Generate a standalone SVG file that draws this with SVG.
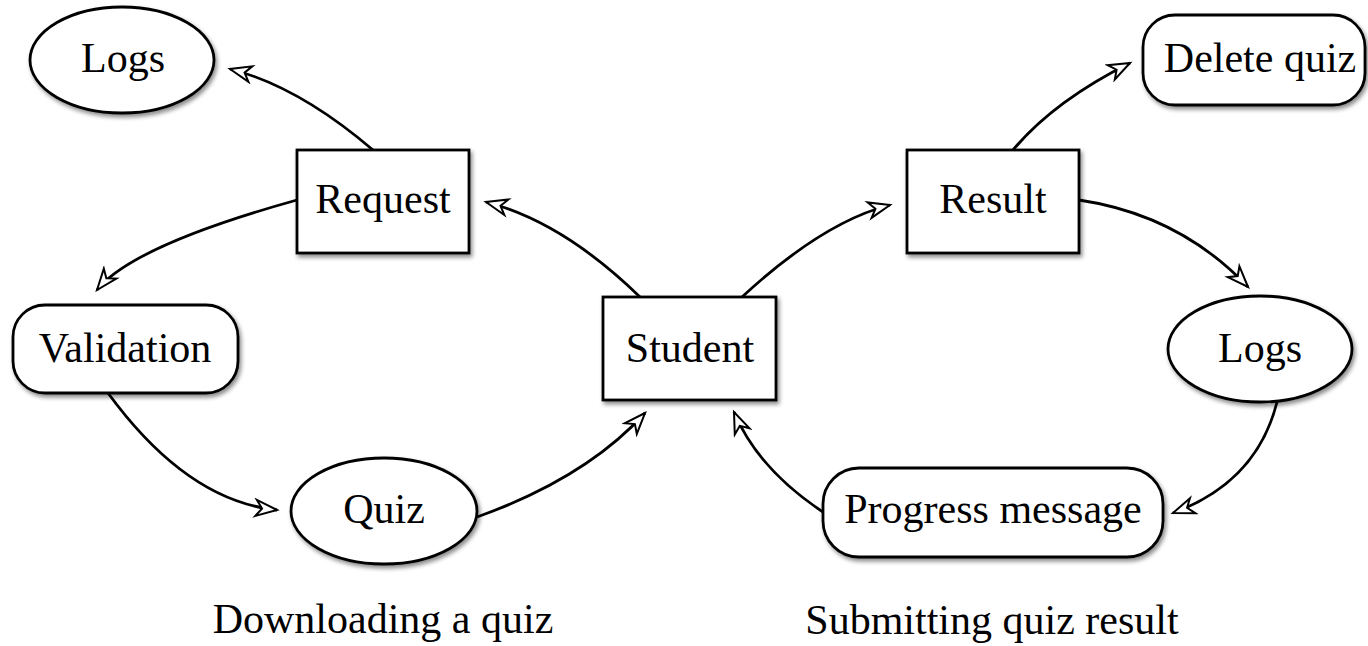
<svg xmlns="http://www.w3.org/2000/svg" width="1368" height="646" viewBox="0 0 1368 646">
<style>
.box{fill:#fff;stroke:#000;stroke-width:2.8;filter:url(#sh)}
.lbl{font-family:"Liberation Serif","Times New Roman",serif;font-size:42px;fill:#000;text-anchor:middle}
.edge{fill:none;stroke:#000;stroke-width:2.8;marker-end:url(#arr)}
</style>
<defs>
<filter id="sh" x="-10%" y="-10%" width="125%" height="130%">
<feDropShadow dx="2" dy="3" stdDeviation="2" flood-color="#000" flood-opacity="0.45"/>
</filter>
<marker id="arr" markerUnits="userSpaceOnUse" viewBox="-24 -10 28 20" refX="0" refY="0" markerWidth="28" markerHeight="20" orient="auto">
<path d="M0,0 L-21,-8 L-15,0 L-21,8 Z" fill="#fff" stroke="#000" stroke-width="2" stroke-linejoin="miter"/>
</marker>
</defs>
<rect width="1368" height="646" fill="#fff"/>
<g id="connectors">
<path class="edge" d="M373,150 Q298,86 230,69"/>
<path class="edge" d="M297,200 Q132,246 97,290"/>
<path class="edge" d="M108,393 Q187,501 277,510"/>
<path class="edge" d="M477,517 Q586,478 645,413"/>
<path class="edge" d="M640,297 Q563,222 486,202"/>
<path class="edge" d="M742,297 Q823,222 890,205"/>
<path class="edge" d="M1013,150 Q1054,101 1130,63"/>
<path class="edge" d="M1079,200 Q1180,215 1248,287"/>
<path class="edge" d="M1277,402 Q1257,482 1173,513"/>
<path class="edge" d="M823,512 Q758,469 734,412"/>
</g>
<g id="logs-left"><ellipse class="box" cx="122" cy="60" rx="92" ry="53"/><text class="lbl" x="123" y="72">Logs</text></g>
<g id="request"><rect class="box" x="297" y="150" width="172" height="103"/><text class="lbl" x="383" y="213">Request</text></g>
<g id="validation"><rect class="box" x="13" y="305" width="225" height="88" rx="32" ry="32"/><text class="lbl" x="125" y="362">Validation</text></g>
<g id="quiz"><ellipse class="box" cx="384" cy="511" rx="93" ry="53"/><text class="lbl" x="384" y="523">Quiz</text></g>
<g id="student"><rect class="box" x="603" y="297" width="173" height="103"/><text class="lbl" x="690" y="362">Student</text></g>
<g id="result"><rect class="box" x="907" y="150" width="172" height="103"/><text class="lbl" x="993" y="213">Result</text></g>
<g id="delete-quiz"><rect class="box" x="1143" y="15" width="222" height="90" rx="32" ry="32"/><text class="lbl" x="1260" y="72">Delete quiz</text></g>
<g id="logs-right"><ellipse class="box" cx="1260" cy="349" rx="92" ry="53"/><text class="lbl" x="1260" y="362">Logs</text></g>
<g id="progress-message"><rect class="box" x="823" y="468" width="340" height="89" rx="36" ry="36"/><text class="lbl" x="993" y="523">Progress message</text></g>
<g id="captions">
<text class="lbl" x="383" y="633">Downloading a quiz</text>
<text class="lbl" x="992" y="634">Submitting quiz result</text>
</g>
</svg>
